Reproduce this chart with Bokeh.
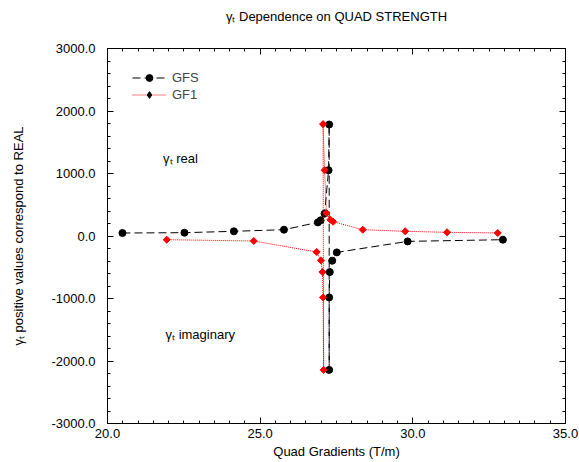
import math
from bokeh.plotting import figure
from bokeh.models import (Range1d, LinearAxis, SingleIntervalTicker, NumeralTickFormatter,
                          CustomJSTickFormatter, Legend, LegendItem, Label, ColumnDataSource)
from bokeh.embed import file_html
from bokeh.resources import INLINE

# ---------------- data ----------------
gfs_x = [20.49, 22.52, 24.14, 25.78, 26.89, 26.98, 27.11, 27.24, 27.26,
         27.26, 27.26, 27.28, 27.36, 27.51, 29.83, 32.95]
gfs_y = [48, 53, 75, 101, 218, 251, 358, 1053, 1784,
         -2142, -983, -577, -395, -262, -86, -59]

gf1_x = [21.94, 24.79, 26.85, 26.99, 27.04, 27.06, 27.08,
         27.06, 27.11, 27.17, 27.30, 27.39, 28.36, 29.75, 31.12, 32.78]
gf1_y = [-59, -80, -256, -390, -577, -983, -2142,
         1790, 1053, 368, 261, 229, 101, 75, 59, 48]

series_names = ["GFS", "GF1"]
title_text = "γₜ Dependence on QUAD STRENGTH"
x_label = "Quad Gradients (T/m)"
y_label = "γₜ positive values correspond to REAL"
note_texts = ["γₜ real", "γₜ imaginary"]
note_x = [21.82, 21.90]
note_y = [1234, -1571]

FONT = "Liberation Sans"
FS = "13px"

p = figure(width=579, height=462,
           x_range=Range1d(20, 35), y_range=Range1d(-3000, 3000),
           output_backend="svg", toolbar_location=None,
           min_border_left=107, min_border_right=14, min_border_top=48, min_border_bottom=39,
           x_axis_label=x_label, y_axis_label=y_label)

p.xgrid.visible = False
p.ygrid.visible = False
p.outline_line_color = "black"
p.outline_line_width = 1
p.background_fill_color = "white"
p.border_fill_color = "white"

xt = SingleIntervalTicker(interval=5, num_minor_ticks=10)
yt = SingleIntervalTicker(interval=1000, num_minor_ticks=5)

def style_axis(ax):
    ax.axis_line_color = "black"
    ax.major_tick_line_color = "black"
    ax.minor_tick_line_color = "black"
    ax.major_tick_in = 6
    ax.major_tick_out = 0
    ax.minor_tick_in = 3
    ax.minor_tick_out = 0
    ax.major_label_text_font = FONT
    ax.major_label_text_font_size = FS
    ax.major_label_text_color = "black"
    ax.axis_label_text_font = FONT
    ax.axis_label_text_font_size = FS
    ax.axis_label_text_font_style = "normal"
    ax.axis_label_text_color = "black"

p.xaxis.ticker = xt
p.yaxis.ticker = yt
p.xaxis.formatter = NumeralTickFormatter(format="0.0")
p.yaxis.formatter = NumeralTickFormatter(format="0.0")
for ax in p.xaxis + p.yaxis:
    style_axis(ax)
p.xaxis.major_label_standoff = 5
p.xaxis.axis_label_standoff = 3
p.yaxis.major_label_standoff = 12
p.yaxis.axis_label_standoff = 22

# top axis (ticks only) carries the chart title; right axis ticks only
top_ax = LinearAxis(ticker=xt, formatter=CustomJSTickFormatter(code="return ''"),
                    axis_label=title_text)
style_axis(top_ax)
top_ax.major_label_text_font_size = "0px"
top_ax.major_label_standoff = 0
top_ax.axis_label_standoff = 25
p.add_layout(top_ax, "above")

right_ax = LinearAxis(ticker=yt, formatter=CustomJSTickFormatter(code="return ''"))
style_axis(right_ax)
right_ax.major_label_text_font_size = "0px"
right_ax.major_label_standoff = 0
p.add_layout(right_ax, "right")

src1 = ColumnDataSource(dict(x=gfs_x, y=gfs_y))
src2 = ColumnDataSource(dict(x=gf1_x, y=gf1_y))

l1 = p.line("x", "y", source=src1, line_color="black", line_width=1, line_dash="8 4")
m1 = p.scatter("x", "y", source=src1, marker="circle", size=7,
               fill_color="black", line_color="black")
l2 = p.line("x", "y", source=src2, line_color="#ff0000", line_width=1, line_dash="1 1")
m2 = p.scatter("x", "y", source=src2, marker="square", angle=math.pi / 4, size=5,
               fill_color="#ff0000", line_color="#ff0000")

# legend sample markers (black, smaller), not drawn in plot
k1 = p.scatter("x", "y", source=src1, marker="circle", size=5,
               fill_color="black", line_color="black", visible=False)
k2 = p.scatter("x", "y", source=src2, marker="diamond", size=7,
               fill_color="black", line_color="black", visible=False)

legend = Legend(items=[LegendItem(label=series_names[0], renderers=[l1, k1]),
                       LegendItem(label=series_names[1], renderers=[l2, k2])],
                location=(25, 320), border_line_color=None, background_fill_alpha=0,
                padding=0, margin=0, spacing=0, glyph_width=34, glyph_height=17,
                label_height=17, label_standoff=6,
                label_text_font=FONT, label_text_font_size=FS)
p.add_layout(legend)

for t, x, y in zip(note_texts, note_x, note_y):
    p.add_layout(Label(x=x, y=y, text=t, text_font=FONT, text_font_size=FS,
                       text_baseline="alphabetic", text_align="left", text_color="black"))

open("out.html", "w").write(file_html(p, INLINE))
